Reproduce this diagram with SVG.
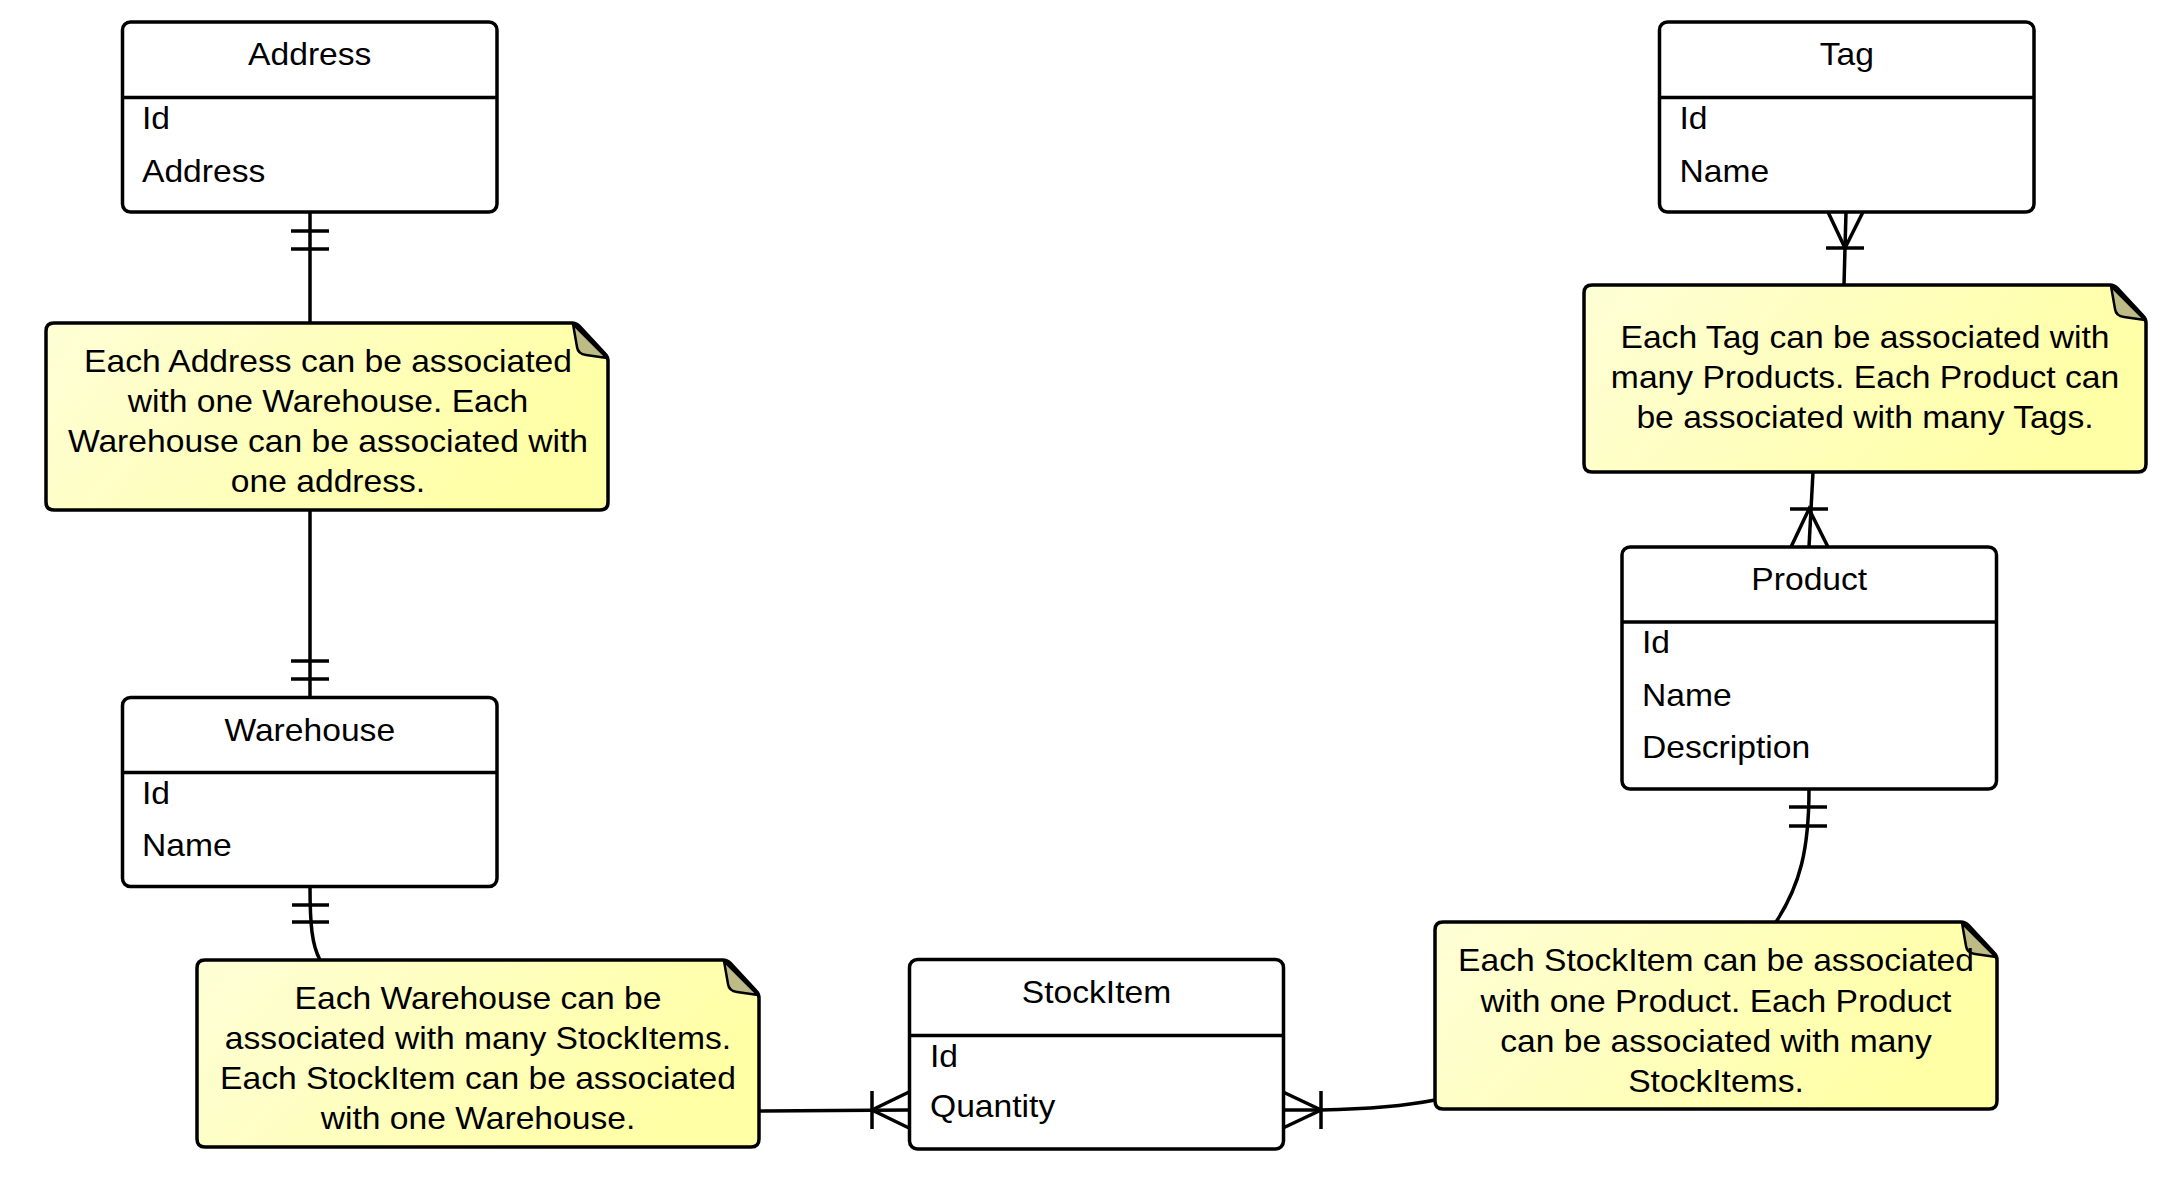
<svg xmlns="http://www.w3.org/2000/svg" xmlns:xlink="http://www.w3.org/1999/xlink" width="2183" height="1202" viewBox="0 0 2183 1202">
<style>
  .ent { fill: #ffffff; stroke: #000000; stroke-width: 3.5; }
  .div { stroke: #000000; stroke-width: 3.5; }
  .lbl { font-family: "Liberation Sans", Arial, sans-serif; font-size: 31px; fill: #000000; }
  .c { text-anchor: middle; }
  .conn path, .conn line { fill: none; stroke: #000000; stroke-width: 3.5; }
  .noteBody { fill: url(#noteGrad); stroke: #000000; stroke-width: 3.5; stroke-linejoin: round; }
  .fold { fill: #bdbc86; stroke: #000000; stroke-width: 2.5; stroke-linejoin: round; }
</style>
<defs>
  <linearGradient id="noteGrad" x1="0" y1="0" x2="1" y2="0.3">
    <stop offset="0" stop-color="#fefed6"/>
    <stop offset="1" stop-color="#ffffa6"/>
  </linearGradient>
  <g id="note">
    <path class="noteBody" d="M8 0 L526 0 Q530 0 533 3 L559 31 Q562 34 562 38 L562 179 Q562 187 554 187 L8 187 Q0 187 0 179 L0 8 Q0 0 8 0 Z"/>
    <path class="fold" d="M527 1 L531 24 Q532 31 540 32 L561 35 Z"/>
  </g>
</defs>
<rect width="2183" height="1202" fill="#ffffff"/>

<g id="connectors" class="conn">
  <!-- Address - Note1 -->
  <line x1="310" y1="212" x2="310" y2="323"/>
  <line x1="291" y1="231" x2="329" y2="231"/>
  <line x1="291" y1="249" x2="329" y2="249"/>
  <!-- Note1 - Warehouse -->
  <line x1="310" y1="510" x2="310" y2="698"/>
  <line x1="291" y1="661" x2="329" y2="661"/>
  <line x1="291" y1="679" x2="329" y2="679"/>
  <!-- Warehouse - Note2 -->
  <path d="M310 886 C310 925 312 945 320 960"/>
  <line x1="292" y1="905" x2="329" y2="905"/>
  <line x1="292" y1="922" x2="329" y2="922"/>
  <!-- Note2 - StockItem -->
  <line x1="758" y1="1111" x2="909" y2="1110"/>
  <line x1="872" y1="1091" x2="872" y2="1129"/>
  <path d="M909 1092 L872 1110 L909 1128"/>
  <!-- StockItem - Note4 -->
  <path d="M1283 1110 L1321 1110 C1370 1109 1410 1105 1435 1100"/>
  <line x1="1321" y1="1091" x2="1321" y2="1129"/>
  <path d="M1283 1092 L1321 1110 L1283 1128"/>
  <!-- Product - Note4 -->
  <path d="M1809 789 C1809 850 1800 885 1776 922"/>
  <line x1="1789" y1="807" x2="1827" y2="807"/>
  <line x1="1789" y1="826" x2="1827" y2="826"/>
  <!-- Note3 - Product -->
  <line x1="1813" y1="472" x2="1809" y2="547"/>
  <line x1="1790" y1="509" x2="1828" y2="509"/>
  <path d="M1791 547 L1809 509 L1828 547"/>
  <!-- Tag - Note3 -->
  <line x1="1846" y1="212" x2="1844" y2="285"/>
  <line x1="1826" y1="248" x2="1864" y2="248"/>
  <path d="M1828 212 L1845 248 L1863 212"/>
</g>

<g id="address">
  <rect class="ent" x="122.5" y="22" width="374.5" height="190" rx="8"/>
  <line class="div" x1="122.5" y1="97.5" x2="497" y2="97.5"/>
  <g transform="translate(309.75 0) scale(1.085 1)"><text class="lbl c" x="0" y="65">Address</text></g>
  <g transform="translate(142 0) scale(1.085 1)">
    <text class="lbl" x="0" y="129">Id</text>
    <text class="lbl" x="0" y="182">Address</text>
  </g>
</g>

<g id="warehouse">
  <rect class="ent" x="122.5" y="697.5" width="374.5" height="189" rx="8"/>
  <line class="div" x1="122.5" y1="772.5" x2="497" y2="772.5"/>
  <g transform="translate(309.75 0) scale(1.085 1)"><text class="lbl c" x="0" y="741">Warehouse</text></g>
  <g transform="translate(142 0) scale(1.085 1)">
    <text class="lbl" x="0" y="804">Id</text>
    <text class="lbl" x="0" y="856">Name</text>
  </g>
</g>

<g id="stockitem">
  <rect class="ent" x="909.5" y="959.5" width="374" height="189.5" rx="8"/>
  <line class="div" x1="909.5" y1="1035.5" x2="1283.5" y2="1035.5"/>
  <g transform="translate(1096.5 0) scale(1.085 1)"><text class="lbl c" x="0" y="1003">StockItem</text></g>
  <g transform="translate(930 0) scale(1.085 1)">
    <text class="lbl" x="0" y="1067">Id</text>
    <text class="lbl" x="0" y="1117">Quantity</text>
  </g>
</g>

<g id="tag">
  <rect class="ent" x="1659.5" y="22" width="374.5" height="190" rx="8"/>
  <line class="div" x1="1659.5" y1="97.5" x2="2034" y2="97.5"/>
  <g transform="translate(1846.75 0) scale(1.085 1)"><text class="lbl c" x="0" y="65">Tag</text></g>
  <g transform="translate(1679.5 0) scale(1.085 1)">
    <text class="lbl" x="0" y="129">Id</text>
    <text class="lbl" x="0" y="182">Name</text>
  </g>
</g>

<g id="product">
  <rect class="ent" x="1622" y="547" width="374.5" height="242" rx="8"/>
  <line class="div" x1="1622" y1="622" x2="1996.5" y2="622"/>
  <g transform="translate(1809.25 0) scale(1.085 1)"><text class="lbl c" x="0" y="590">Product</text></g>
  <g transform="translate(1642 0) scale(1.085 1)">
    <text class="lbl" x="0" y="653">Id</text>
    <text class="lbl" x="0" y="706">Name</text>
    <text class="lbl" x="0" y="758">Description</text>
  </g>
</g>

<g id="note-address-warehouse">
  <use xlink:href="#note" href="#note" x="46" y="323"/>
  <g transform="translate(328 0) scale(1.085 1)">
    <text class="lbl c" x="0" y="372">Each Address can be associated</text>
    <text class="lbl c" x="0" y="412">with one Warehouse. Each</text>
    <text class="lbl c" x="0" y="452">Warehouse can be associated with</text>
    <text class="lbl c" x="0" y="492">one address.</text>
  </g>
</g>

<g id="note-warehouse-stockitem">
  <use xlink:href="#note" href="#note" x="197" y="960"/>
  <g transform="translate(478 0) scale(1.085 1)">
    <text class="lbl c" x="0" y="1009">Each Warehouse can be</text>
    <text class="lbl c" x="0" y="1049">associated with many StockItems.</text>
    <text class="lbl c" x="0" y="1089">Each StockItem can be associated</text>
    <text class="lbl c" x="0" y="1129">with one Warehouse.</text>
  </g>
</g>

<g id="note-tag-product">
  <use xlink:href="#note" href="#note" x="1584" y="285"/>
  <g transform="translate(1865 0) scale(1.085 1)">
    <text class="lbl c" x="0" y="348">Each Tag can be associated with</text>
    <text class="lbl c" x="0" y="388">many Products. Each Product can</text>
    <text class="lbl c" x="0" y="428">be associated with many Tags.</text>
  </g>
</g>

<g id="note-stockitem-product">
  <use xlink:href="#note" href="#note" x="1435" y="922"/>
  <g transform="translate(1716 0) scale(1.085 1)">
    <text class="lbl c" x="0" y="971">Each StockItem can be associated</text>
    <text class="lbl c" x="0" y="1012">with one Product. Each Product</text>
    <text class="lbl c" x="0" y="1052">can be associated with many</text>
    <text class="lbl c" x="0" y="1092">StockItems.</text>
  </g>
</g>
</svg>
